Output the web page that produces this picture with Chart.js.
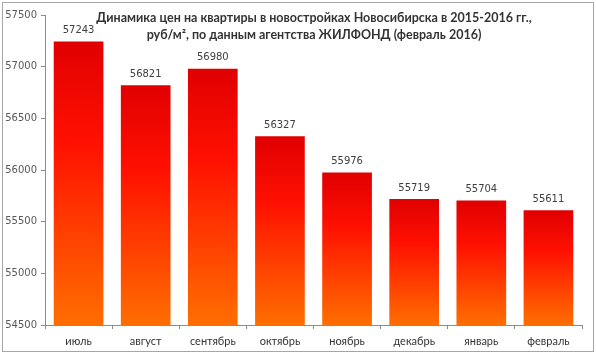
<!DOCTYPE html>
<html>
<head>
<meta charset="utf-8">
<script src="https://cdn.jsdelivr.net/npm/chart.js@4/dist/chart.umd.min.js"></script>
<style>
  html, body { margin: 0; padding: 0; background: #fff; }
  #wrap { position: relative; width: 596px; height: 355px; }
  #frame { position: absolute; left: 2px; top: 2px; width: 590px; height: 348px; border: 1.5px solid #a6a6a6; pointer-events: none; }
  canvas { position: absolute; left: 0; top: 0; }
</style>
</head>
<body>
<div id="wrap">
  <canvas id="c" width="596" height="355"></canvas>
  <div id="frame"></div>
</div>
<script>
const categories = ["июль", "август", "сентябрь", "октябрь", "ноябрь", "декабрь", "январь", "февраль"];
const prices = [57243, 56821, 56980, 56327, 55976, 55719, 55704, 55611];
const titleLines = ["Динамика цен на квартиры в новостройках Новосибирска в 2015-2016 гг.,", "руб/м², по данным агентства ЖИЛФОНД (февраль 2016)"];
const yMin = 54500, yMax = 57500, yStep = 500;

const FONT = "Lato, 'Open Sans', sans-serif";
const NUMFONT = "'DejaVu Sans', Verdana, sans-serif";

function barFill(ctx) {
  const chart = ctx.chart;
  const area = chart.chartArea;
  if (!area) return "#ff2000";
  const y = chart.scales.y;
  const top = y.getPixelForValue(ctx.raw);
  const bottom = y.bottom;
  const g = chart.ctx.createLinearGradient(0, top, 0, bottom);
  g.addColorStop(0, "#e00000");
  g.addColorStop(0.35, "#ff1000");
  g.addColorStop(0.75, "#ff4a00");
  g.addColorStop(1, "#ff6e00");
  return g;
}

const labelPlugin = {
  id: "valueLabels",
  afterDatasetsDraw(chart) {
    const c = chart.ctx;
    const meta = chart.getDatasetMeta(0);
    c.save();
    c.font = "10px " + NUMFONT;
    c.fillStyle = "#404040";
    c.textAlign = "center";
    c.textBaseline = "middle";
    meta.data.forEach((bar, i) => {
      c.fillText(String(chart.data.datasets[0].data[i]), bar.x, bar.y - 11);
    });
    c.restore();
  }
};

const titlePlugin = {
  id: "overlayTitle",
  afterDraw(chart) {
    const c = chart.ctx;
    c.save();
    c.font = "bold 12.5px " + FONT;
    c.fillStyle = "#333333";
    c.textAlign = "center";
    c.textBaseline = "middle";
    titleLines.forEach((t, i) => c.fillText(t, 314, 18 + i * 17));
    c.restore();
  }
};

new Chart(document.getElementById("c"), {
  type: "bar",
  data: {
    labels: categories,
    datasets: [{
      data: prices,
      backgroundColor: barFill,
      borderWidth: 0,
      barPercentage: 0.74,
      categoryPercentage: 1.0
    }]
  },
  options: {
    responsive: false,
    animation: false,
    devicePixelRatio: 1,
    layout: { padding: { top: 15, right: 14, bottom: 0, left: 0 } },
    plugins: { legend: { display: false }, tooltip: { enabled: false }, title: { display: false } },
    scales: {
      x: {
        afterFit(s) { s.height = 30; },
        grid: { display: true, drawOnChartArea: false, tickLength: 4, color: "#8c8c8c", offset: true },
        border: { display: true, color: "#8c8c8c" },
        ticks: { font: { family: FONT, size: 11 }, color: "#333333", padding: 6, maxRotation: 0 }
      },
      y: {
        min: yMin, max: yMax,
        afterFit(s) { s.width = 45; },
        grid: { display: true, drawOnChartArea: false, tickLength: 4, color: "#8c8c8c" },
        border: { display: true, color: "#8c8c8c" },
        ticks: { stepSize: yStep, font: { family: NUMFONT, size: 10 }, color: "#595959", padding: 4,
                 callback: (v) => String(v) }
      }
    }
  },
  plugins: [labelPlugin, titlePlugin]
});
</script>
</body>
</html>
